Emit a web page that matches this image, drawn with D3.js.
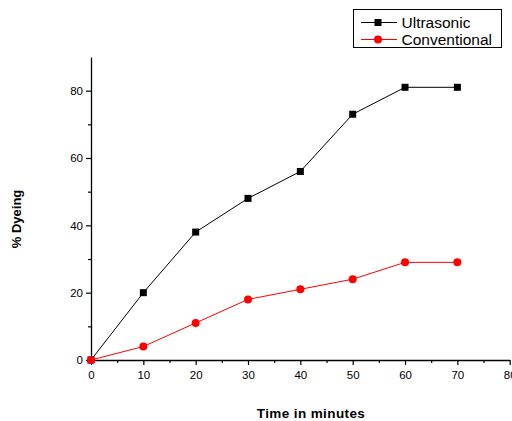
<!DOCTYPE html>
<html>
<head>
<meta charset="utf-8">
<script src="https://cdn.jsdelivr.net/npm/d3@7"></script>
<style>
  body { margin: 0; background: #fff; }
  text { font-family: "Liberation Sans", Arial, sans-serif; }
</style>
</head>
<body>
<div id="chart"></div>
<script>
const times = [0, 10, 20, 30, 40, 50, 60, 70];
const ultrasonic = [0, 20, 38, 48, 56, 73, 81, 81];
const conventional = [0, 4, 11, 18, 21, 24, 29, 29];
const xTicks = [0, 10, 20, 30, 40, 50, 60, 70, 80];
const yTicks = [0, 20, 40, 60, 80];

const width = 512, height = 421;
const svg = d3.select("#chart").append("svg")
    .attr("width", width)
    .attr("height", height);

const x = d3.scaleLinear().domain([0, 80]).range([91, 509.7]);
const y = d3.scaleLinear().domain([0, 90]).range([360, 57]);

// axes
const xAxis = svg.append("g")
    .attr("transform", `translate(0,${y(0)})`)
    .call(d3.axisBottom(x).tickValues(xTicks).tickSize(5).tickSizeOuter(0));
svg.append("g")
    .attr("transform", `translate(0,${y(0)})`)
    .call(d3.axisBottom(x).tickValues(d3.range(5, 80, 10)).tickSize(3).tickFormat(""))
    .select(".domain").remove();

const yAxis = svg.append("g")
    .attr("transform", `translate(${x(0)},0)`)
    .call(d3.axisLeft(y).tickValues(yTicks).tickSize(5).tickSizeOuter(0));
svg.append("g")
    .attr("transform", `translate(${x(0)},0)`)
    .call(d3.axisLeft(y).tickValues([10, 30, 50, 70]).tickSize(3).tickFormat(""))
    .select(".domain").remove();

svg.selectAll(".domain").attr("stroke-width", 1.3);
svg.selectAll(".tick line").attr("stroke-width", 1.2);
svg.selectAll(".tick text").attr("font-size", 11.5)
    .attr("font-family", "Liberation Sans, Arial, sans-serif");
xAxis.selectAll(".tick text").attr("dy", "0.95em");

// axis titles
svg.append("text")
    .attr("x", 311).attr("y", 418)
    .attr("text-anchor", "middle")
    .attr("font-size", 13.5).attr("font-weight", "bold")
    .attr("letter-spacing", 0.4)
    .text("Time in minutes");
svg.append("text")
    .attr("transform", "translate(21,219) rotate(-90)")
    .attr("text-anchor", "middle")
    .attr("font-size", 13).attr("font-weight", "bold")
    .text("% Dyeing");

// series
const series = [
  { name: "Ultrasonic", values: ultrasonic, color: "#000000", marker: "square" },
  { name: "Conventional", values: conventional, color: "#ff0000", marker: "circle" }
];

const line = d3.line().x((d, i) => x(times[i])).y(d => y(d));

series.forEach(s => {
  svg.append("path")
      .datum(s.values)
      .attr("fill", "none")
      .attr("stroke", s.color)
      .attr("stroke-width", 1)
      .attr("d", line);
  const g = svg.append("g").attr("fill", s.color);
  if (s.marker === "square") {
    g.selectAll("rect").data(s.values).join("rect")
        .attr("x", (d, i) => x(times[i]) - 3.5)
        .attr("y", d => y(d) - 3.5)
        .attr("width", 7).attr("height", 7);
  } else {
    g.selectAll("circle").data(s.values).join("circle")
        .attr("cx", (d, i) => x(times[i]))
        .attr("cy", d => y(d))
        .attr("r", 4);
  }
});

// legend
const legend = svg.append("g");
legend.append("rect")
    .attr("x", 353.5).attr("y", 9.5)
    .attr("width", 148).attr("height", 38)
    .attr("fill", "#fff").attr("stroke", "#000").attr("stroke-width", 1);

series.forEach((s, i) => {
  const ly = 22.5 + i * 17;
  legend.append("line")
      .attr("x1", 361).attr("x2", 397)
      .attr("y1", ly).attr("y2", ly)
      .attr("stroke", s.color).attr("stroke-width", 1);
  if (s.marker === "square") {
    legend.append("rect")
        .attr("x", 374.5).attr("y", ly - 3.5)
        .attr("width", 7).attr("height", 7)
        .attr("fill", s.color);
  } else {
    legend.append("circle")
        .attr("cx", 378).attr("cy", ly).attr("r", 4)
        .attr("fill", s.color);
  }
  legend.append("text")
      .attr("x", 401.5).attr("y", ly)
      .attr("dy", "0.35em")
      .attr("font-size", 15.5)
      .text(s.name);
});
</script>
</body>
</html>
